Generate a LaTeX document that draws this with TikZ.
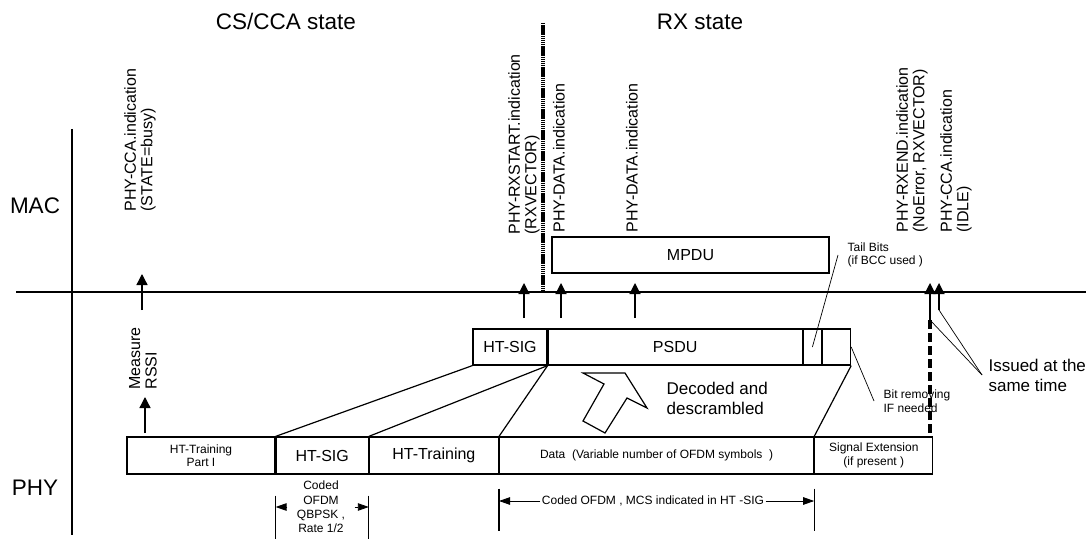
\documentclass[tikz,border=0pt]{standalone}
\usepackage{fontspec}
\setmainfont{Liberation Sans}
\usetikzlibrary{calc,positioning,arrows.meta}
\newcommand\fsTitle{\fontsize{22.5}{27}\selectfont}
\newcommand\fsMid{\fontsize{16}{16.5}\selectfont}
\newcommand\fsBig{\fontsize{17}{20}\selectfont}
\newcommand\fsSmall{\fontsize{12}{13.5}\selectfont}
\newcommand\fsDim{\fontsize{12}{14.3}\selectfont}

\begin{document}
\begin{tikzpicture}[x=1pt, y=-1pt, line width=1.2pt,
    cell/.style={draw, inner sep=0pt, minimum height=#1, align=center},
    sig/.style={-{Triangle[length=11pt,width=11pt]}, line width=1.3pt},
    dim/.style={-{Triangle[length=11pt,width=7.5pt]}, line width=0.9pt},
    prim/.style={rotate=90, anchor=west, align=left, inner sep=0pt, font=\fsMid},
    note/.style={anchor=west, align=left, inner xsep=9pt, inner ysep=0pt, font=\fsSmall},
    thinln/.style={line width=0.7pt}]
  \useasboundingbox (0,0) rectangle (1086,540);
  % axes and state border
  \coordinate (axl) at (16,292);
  \coordinate (axr) at (1086,292);
  \coordinate (axt) at (72,129);
  \coordinate (axb) at (72,535);
  \coordinate (brk-t) at (543,23);
  \coordinate (brk-b) at (543,292);
  \draw (axl) -- (axr);
  \draw (axt) -- (axb);
  \draw[line width=3.4pt, dash pattern=on 1.5pt off 0.6pt] (brk-t) -- (brk-b);
  \node[font=\fsTitle, anchor=base] (cst) at (286,30) {CS/CCA state};
  \node[font=\fsTitle, anchor=base] (rxst) at (700,30) {RX state};
  \node[font=\fsTitle, anchor=base] (mac) at (35,213) {MAC};
  \node[font=\fsTitle, anchor=base] (phy) at (35,495) {PHY};
  % PHY frame
  \node[cell=37pt, minimum width=148pt, font=\fsSmall] (htt1) at (201,455.5) {HT-Training\\Part I};
  \node[cell=37pt, minimum width=92pt, font=\fsMid, anchor=west] (sigl) at (htt1.east) {HT-SIG};
  \node[cell=37pt, minimum width=129pt, font=\fsMid, anchor=west] (htt2) at (sigl.east) {HT-Training};
  \node[cell=37pt, minimum width=314pt, font=\fsSmall, anchor=west] (data) at (htt2.east) {Data~ (Variable number of OFDM symbols~ )};
  \node[cell=37pt, minimum width=118pt, font=\fsSmall, anchor=west] (sext) at (data.east) {Signal Extension\\(if present )};
  % decoded fields
  \node[cell=36pt, minimum width=74pt, font=\fsMid] (sigu) at (510,347) {HT-SIG};
  \node[cell=36pt, minimum width=254pt, font=\fsMid, anchor=west] (psdu) at (sigu.east) {PSDU};
  \node[cell=36pt, minimum width=18pt, anchor=west] (tail) at (psdu.east) {};
  \node[cell=36pt, minimum width=28pt, anchor=west] (pad) at (tail.east) {};
  \node[cell=36pt, minimum width=277pt, font=\fsMid] (mpdu) at (690.5,255) {MPDU};
  \draw (sigl.north west) -- (sigu.south west);
  \draw (sigl.north east) -- (sigu.south east);
  \draw (data.north west) -- (psdu.south west);
  \draw (data.north east) -- (pad.south east);
  % primitives
  \node[prim] (ccab) at (140,212) {PHY-CCA.indication\\(STATE=busy)};
  \node[prim] (rxs) at (524,235) {PHY-RXSTART.indication\\(RXVECTOR)};
  \node[prim] (dat1) at (559,233) {PHY-DATA.indication};
  \node[prim] (dat2) at (632,233) {PHY-DATA.indication};
  \node[prim] (rxe) at (912,233) {PHY-RXEND.indication\\(NoError, RXVECTOR)};
  \node[prim] (ccai) at (956,233) {PHY-CCA.indication\\(IDLE)};
  \node[prim] (rssi) at (143,390) {Measure\\RSSI};
  \foreach \n/\x/\ya/\yb in {ccab/142/310/274, rssi/145/433/397, rxs/524/318/283, dat1/561/318/283,
                             dat2/635/318/283, rxe/930/320/283, ccai/939/310/283}{
    \coordinate (\n-b) at (\x,\ya);
    \coordinate (\n-t) at (\x,\yb);
    \draw[sig] (\n-b) -- (\n-t);
  }
  % notes
  \node[note] (tailn) at (838,255) {Tail Bits\\(if BCC used )};
  \draw[thinln] (tail.center) -- (tailn.west);
  \node[note] (bitn) at (874,401) {Bit removing\\IF needed};
  \draw[thinln] (pad.east) -- (bitn.west);
  \draw[line width=3.4pt, dash pattern=on 9pt off 4pt] (rxe-b) -- (rxe-b |- sext.north);
  \node[note, font=\fsBig, inner xsep=6pt] (issn) at (982,375) {Issued at the\\same time};
  \draw[thinln] (rxe-b) -- (issn.west);
  \draw[thinln] (ccai-b) -- (issn.west);
  \node[anchor=west, align=left, inner sep=0pt, font=\fsBig] (decn) at (666,398) {Decoded and\\descrambled};
  \draw (583,373) -- (625,373) -- (647,408) -- (627,398) -- (605,433) -- (583,421) -- (604,384) -- cycle;
  % coding brackets
  \draw ($(sigl.south west)+(0,21)$) -- ++(0,43);
  \draw ($(sigl.south east)+(0,21)$) -- ++(0,43);
  \node[font=\fsDim, align=center, inner xsep=9pt, inner ysep=0pt] (codl) at (321,507) {Coded\\OFDM\\QBPSK ,\\Rate 1/2};
  \draw[dim] (codl.west) -- (codl.west -| sigl.west);
  \draw[dim] (codl.east) -- (codl.east -| sigl.east);
  \draw ($(data.south west)+(0,14)$) -- ++(0,42);
  \draw ($(data.south east)+(0,14)$) -- ++(0,42);
  \node[font=\fsSmall, inner sep=1pt] (codd) at (653,501) {Coded OFDM , MCS indicated in HT -SIG};
  \draw[dim] (codd.west) -- (codd.west -| data.west);
  \draw[dim] (codd.east) -- (codd.east -| data.east);
\end{tikzpicture}
\end{document}
